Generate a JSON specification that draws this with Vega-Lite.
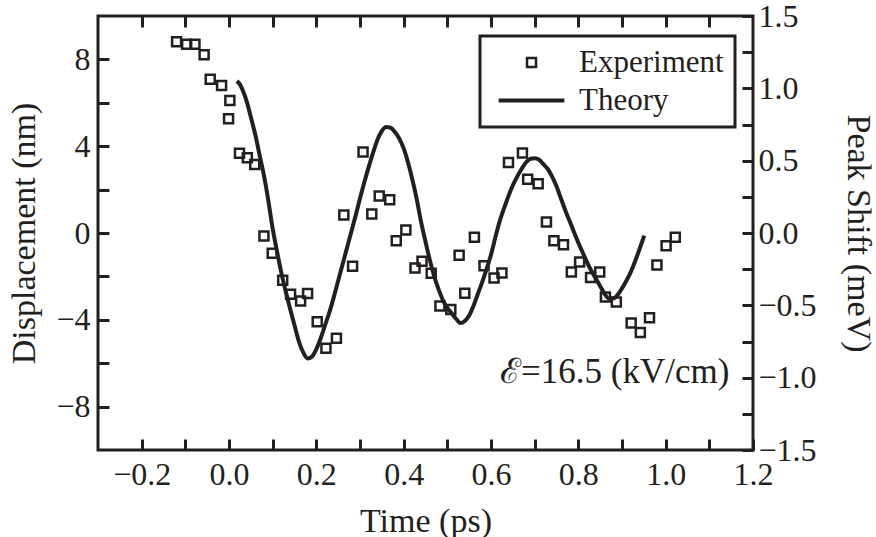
{
  "$schema": "https://vega.github.io/schema/vega-lite/v6.json",
  "width": 655,
  "height": 434,
  "autosize": "none",
  "padding": {"left": 98, "top": 16, "right": 123, "bottom": 87},
  "background": "white",
  "config": {
    "view": {"stroke": "#231f20", "strokeWidth": 3},
    "font": "Liberation Serif",
    "axis": {
      "labelFont": "Liberation Serif", "titleFont": "Liberation Serif",
      "labelFontSize": 32, "titleFontSize": 34, "titleFontWeight": "normal",
      "labelColor": "#231f20", "titleColor": "#231f20", "tickColor": "#231f20",
      "tickWidth": 3, "tickSize": -11, "domain": false, "grid": false,
      "labelFlush": false, "labelOverlap": false, "labelBound": false
    },
    "legend": {"labelFont": "Liberation Serif", "labelFontSize": 31, "labelColor": "#231f20", "strokeWidth": 3}
  },
  "datasets": {
    "exp": [
      {"t": -0.120, "d": 8.81, "series": "Experiment"}, {"t": -0.097, "d": 8.70, "series": "Experiment"},
      {"t": -0.078, "d": 8.70, "series": "Experiment"}, {"t": -0.057, "d": 8.22, "series": "Experiment"},
      {"t": -0.043, "d": 7.08, "series": "Experiment"}, {"t": -0.017, "d": 6.80, "series": "Experiment"},
      {"t": 0.002, "d": 6.11, "series": "Experiment"}, {"t": -0.001, "d": 5.26, "series": "Experiment"},
      {"t": 0.024, "d": 3.67, "series": "Experiment"}, {"t": 0.042, "d": 3.47, "series": "Experiment"},
      {"t": 0.059, "d": 3.16, "series": "Experiment"}, {"t": 0.080, "d": -0.14, "series": "Experiment"},
      {"t": 0.099, "d": -0.93, "series": "Experiment"}, {"t": 0.123, "d": -2.18, "series": "Experiment"},
      {"t": 0.141, "d": -2.82, "series": "Experiment"}, {"t": 0.164, "d": -3.13, "series": "Experiment"},
      {"t": 0.180, "d": -2.79, "series": "Experiment"}, {"t": 0.202, "d": -4.09, "series": "Experiment"},
      {"t": 0.222, "d": -5.31, "series": "Experiment"}, {"t": 0.246, "d": -4.85, "series": "Experiment"},
      {"t": 0.263, "d": 0.83, "series": "Experiment"}, {"t": 0.283, "d": -1.53, "series": "Experiment"},
      {"t": 0.307, "d": 3.73, "series": "Experiment"}, {"t": 0.327, "d": 0.88, "series": "Experiment"},
      {"t": 0.344, "d": 1.71, "series": "Experiment"}, {"t": 0.368, "d": 1.53, "series": "Experiment"},
      {"t": 0.383, "d": -0.36, "series": "Experiment"}, {"t": 0.405, "d": 0.14, "series": "Experiment"},
      {"t": 0.426, "d": -1.61, "series": "Experiment"}, {"t": 0.442, "d": -1.30, "series": "Experiment"},
      {"t": 0.463, "d": -1.86, "series": "Experiment"}, {"t": 0.483, "d": -3.36, "series": "Experiment"},
      {"t": 0.508, "d": -3.53, "series": "Experiment"}, {"t": 0.527, "d": -1.02, "series": "Experiment"},
      {"t": 0.540, "d": -2.78, "series": "Experiment"}, {"t": 0.562, "d": -0.20, "series": "Experiment"},
      {"t": 0.584, "d": -1.51, "series": "Experiment"}, {"t": 0.607, "d": -2.07, "series": "Experiment"},
      {"t": 0.625, "d": -1.84, "series": "Experiment"}, {"t": 0.640, "d": 3.25, "series": "Experiment"},
      {"t": 0.672, "d": 3.69, "series": "Experiment"}, {"t": 0.684, "d": 2.48, "series": "Experiment"},
      {"t": 0.708, "d": 2.27, "series": "Experiment"}, {"t": 0.727, "d": 0.51, "series": "Experiment"},
      {"t": 0.744, "d": -0.36, "series": "Experiment"}, {"t": 0.766, "d": -0.54, "series": "Experiment"},
      {"t": 0.784, "d": -1.80, "series": "Experiment"}, {"t": 0.803, "d": -1.34, "series": "Experiment"},
      {"t": 0.828, "d": -2.05, "series": "Experiment"}, {"t": 0.849, "d": -1.80, "series": "Experiment"},
      {"t": 0.862, "d": -2.95, "series": "Experiment"}, {"t": 0.887, "d": -3.18, "series": "Experiment"},
      {"t": 0.921, "d": -4.15, "series": "Experiment"}, {"t": 0.942, "d": -4.58, "series": "Experiment"},
      {"t": 0.963, "d": -3.90, "series": "Experiment"}, {"t": 0.980, "d": -1.47, "series": "Experiment"},
      {"t": 1.001, "d": -0.59, "series": "Experiment"}, {"t": 1.022, "d": -0.20, "series": "Experiment"}
    ],
    "theory": [
      {"t": 0.018, "d": 7.0}, {"t": 0.025, "d": 6.85}, {"t": 0.030, "d": 6.65}, {"t": 0.040, "d": 6.1},
      {"t": 0.050, "d": 5.35}, {"t": 0.060, "d": 4.55}, {"t": 0.070, "d": 3.6}, {"t": 0.080, "d": 2.65},
      {"t": 0.090, "d": 1.5}, {"t": 0.100, "d": 0.2}, {"t": 0.110, "d": -0.85}, {"t": 0.120, "d": -1.85},
      {"t": 0.130, "d": -2.7}, {"t": 0.140, "d": -3.5}, {"t": 0.150, "d": -4.25}, {"t": 0.160, "d": -5.0},
      {"t": 0.170, "d": -5.5}, {"t": 0.180, "d": -5.78}, {"t": 0.190, "d": -5.7}, {"t": 0.200, "d": -5.35},
      {"t": 0.210, "d": -4.85}, {"t": 0.220, "d": -4.25}, {"t": 0.230, "d": -3.65}, {"t": 0.240, "d": -2.95},
      {"t": 0.250, "d": -2.2}, {"t": 0.260, "d": -1.45}, {"t": 0.270, "d": -0.7}, {"t": 0.280, "d": 0.05},
      {"t": 0.290, "d": 0.8}, {"t": 0.300, "d": 1.6}, {"t": 0.310, "d": 2.35}, {"t": 0.320, "d": 3.05},
      {"t": 0.330, "d": 3.7}, {"t": 0.340, "d": 4.3}, {"t": 0.350, "d": 4.7}, {"t": 0.360, "d": 4.88},
      {"t": 0.370, "d": 4.85}, {"t": 0.380, "d": 4.65}, {"t": 0.390, "d": 4.35}, {"t": 0.400, "d": 3.9},
      {"t": 0.410, "d": 3.25}, {"t": 0.420, "d": 2.45}, {"t": 0.430, "d": 1.55}, {"t": 0.440, "d": 0.5},
      {"t": 0.450, "d": -0.4}, {"t": 0.460, "d": -1.25}, {"t": 0.470, "d": -2.0}, {"t": 0.480, "d": -2.6},
      {"t": 0.490, "d": -3.1}, {"t": 0.500, "d": -3.45}, {"t": 0.510, "d": -3.7}, {"t": 0.520, "d": -3.95},
      {"t": 0.530, "d": -4.15}, {"t": 0.540, "d": -4.05}, {"t": 0.550, "d": -3.8}, {"t": 0.560, "d": -3.35},
      {"t": 0.570, "d": -2.8}, {"t": 0.580, "d": -2.25}, {"t": 0.590, "d": -1.65}, {"t": 0.600, "d": -1.0},
      {"t": 0.610, "d": -0.2}, {"t": 0.620, "d": 0.55}, {"t": 0.630, "d": 1.15}, {"t": 0.640, "d": 1.7},
      {"t": 0.650, "d": 2.2}, {"t": 0.660, "d": 2.6}, {"t": 0.670, "d": 2.95}, {"t": 0.680, "d": 3.25},
      {"t": 0.690, "d": 3.42}, {"t": 0.700, "d": 3.45}, {"t": 0.710, "d": 3.38}, {"t": 0.720, "d": 3.17},
      {"t": 0.730, "d": 2.95}, {"t": 0.740, "d": 2.6}, {"t": 0.750, "d": 2.15}, {"t": 0.760, "d": 1.6},
      {"t": 0.770, "d": 1.05}, {"t": 0.780, "d": 0.55}, {"t": 0.790, "d": 0.05}, {"t": 0.800, "d": -0.45},
      {"t": 0.810, "d": -0.9}, {"t": 0.820, "d": -1.35}, {"t": 0.830, "d": -1.75}, {"t": 0.840, "d": -2.1},
      {"t": 0.850, "d": -2.45}, {"t": 0.860, "d": -2.8}, {"t": 0.870, "d": -3.02}, {"t": 0.880, "d": -3.02},
      {"t": 0.890, "d": -2.85}, {"t": 0.900, "d": -2.55}, {"t": 0.910, "d": -2.2}, {"t": 0.920, "d": -1.8},
      {"t": 0.930, "d": -1.3}, {"t": 0.940, "d": -0.75}, {"t": 0.951, "d": -0.12}
    ],
    "note": [{"t": 1.146, "d": -6.9, "label": "ℰ=16.5 (kV/cm)"}],
    "right": [{"ps": -1.5}, {"ps": 1.5}]
  },
  "layer": [
    {
      "data": {"name": "theory"},
      "mark": {"type": "line", "strokeWidth": 4, "interpolate": "monotone", "color": "#231f20"},
      "encoding": {
        "x": {"field": "t", "type": "quantitative", "scale": {"domain": [-0.3, 1.2], "nice": false, "zero": false}, "axis": null},
        "y": {"field": "d", "type": "quantitative", "scale": {"domain": [-10, 10], "nice": false}, "axis": null}
      }
    },
    {
      "data": {"name": "exp"},
      "mark": {"type": "point", "filled": false, "size": 81, "opacity": 1, "color": "#231f20"},
      "encoding": {
        "x": {"field": "t", "type": "quantitative", "scale": {"domain": [-0.3, 1.2], "nice": false, "zero": false},
          "axis": {"orient": "bottom", "title": "Time (ps)", "values": [-0.2, -0.1, 0, 0.1, 0.2, 0.3, 0.4, 0.5, 0.6, 0.7, 0.8, 0.9, 1.0, 1.1, 1.2],
            "labelExpr": "abs(round(datum.value * 10)) % 2 == 0 ? format(datum.value, '.1f') : ''", "labelPadding": 20, "titlePadding": 14}},
        "y": {"field": "d", "type": "quantitative", "scale": {"domain": [-10, 10], "nice": false},
          "axis": {"orient": "left", "title": "Displacement (nm)", "values": [-8, -6, -4, -2, 0, 2, 4, 6, 8],
            "labelExpr": "abs(datum.value) % 4 == 0 ? format(datum.value, 'd') : ''", "labelPadding": 19, "titlePadding": 14}},
        "shape": {"field": "series", "type": "nominal", "scale": {"domain": ["Experiment", "Theory"], "range": ["square", "M-7.3,0H7.3"]},
          "legend": {"orient": "none", "legendX": 382, "legendY": 20, "title": null, "strokeColor": "#231f20", "padding": 11,
            "symbolSize": 81, "symbolOffset": 25, "labelOffset": 32, "rowPadding": 6,
            "symbolStrokeColor": "#231f20", "symbolFillColor": "transparent"}},
        "strokeWidth": {"field": "series", "type": "ordinal", "scale": {"domain": ["Experiment", "Theory"], "range": [2.5, 4]},
          "legend": {"orient": "none", "legendX": 382, "legendY": 20, "title": null, "strokeColor": "#231f20", "padding": 11,
            "symbolSize": 81, "symbolOffset": 25, "labelOffset": 32, "rowPadding": 6,
            "symbolStrokeColor": "#231f20", "symbolFillColor": "transparent"}}
      }
    },
    {
      "data": {"name": "note"},
      "mark": {"type": "text", "align": "right", "baseline": "alphabetic", "fontSize": 35, "font": "Liberation Serif", "color": "#231f20"},
      "encoding": {
        "x": {"field": "t", "type": "quantitative", "scale": {"domain": [-0.3, 1.2], "nice": false, "zero": false},
          "axis": {"orient": "top", "title": null, "labels": false, "values": [-0.2, -0.1, 0, 0.1, 0.2, 0.3, 0.4, 0.5, 0.6, 0.7, 0.8, 0.9, 1.0, 1.1]}},
        "y": {"field": "d", "type": "quantitative", "scale": {"domain": [-10, 10], "nice": false}, "axis": null},
        "text": {"field": "label"}
      }
    },
    {
      "data": {"name": "right"},
      "mark": {"type": "point", "opacity": 0},
      "encoding": {
        "y": {"field": "ps", "type": "quantitative", "scale": {"domain": [-1.5, 1.5], "nice": false},
          "axis": {"orient": "right", "title": "Peak Shift (meV)", "values": [-1.5, -1.25, -1, -0.75, -0.5, -0.25, 0, 0.25, 0.5, 0.75, 1, 1.25, 1.5],
            "labelExpr": "abs(round(datum.value * 4)) % 2 == 0 ? format(datum.value, '.1f') : ''", "labelPadding": 16, "titlePadding": 24}}
      }
    }
  ],
  "resolve": {"scale": {"y": "independent"}, "axis": {"x": "independent"}}
}
